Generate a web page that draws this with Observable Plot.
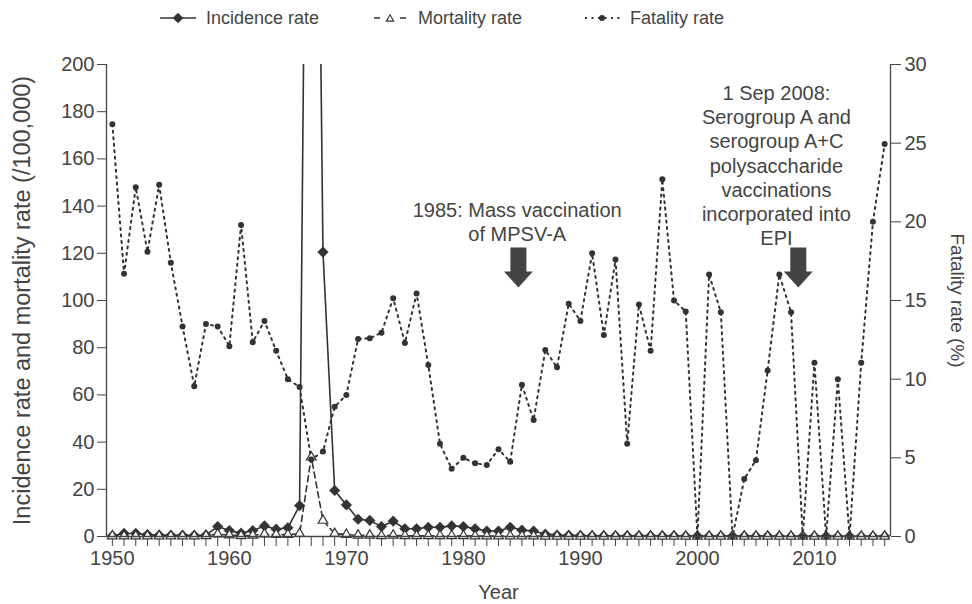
<!DOCTYPE html>
<html><head><meta charset="utf-8">
<script src="https://cdn.jsdelivr.net/npm/d3@7"></script>
<script src="https://cdn.jsdelivr.net/npm/@observablehq/plot@0.6"></script>
<style>
body{margin:0;background:#fff;font-family:"Liberation Sans",Arial,sans-serif;}
#legend{position:relative;width:972px;height:36px;color:#444;font-size:18px;}
.item{position:absolute;top:0;height:36px;display:flex;align-items:center;white-space:nowrap;}
.item svg{margin-right:10px;}
</style></head><body>
<div id="legend"></div>
<div id="chart"></div>
<script>
const years = d3.range(1950, 2017);
const incidence = [
  0.3,1.3,1.3,0.8,0.6,0.5,0.5,0.5,0.6,4.2,
  2.5,1.4,2.5,4.5,3.1,3.7,13.1,570,120.5,19.5,
  13.4,7.3,6.8,4.2,6.5,3.3,3.3,3.9,3.9,4.5,
  4.2,3.3,2.3,2.3,3.9,2.7,2.3,1.0,0.6,0.5,
  0.4,0.3,0.3,0.3,0.3,0.3,0.3,0.3,0.3,0.2,
  0.2,0.2,0.2,0.2,0.2,0.2,0.2,0.1,0.1,0.1,
  0.1,0.1,0.1,0.1,0.1,0.1,0.1
];
const mortality = [
  0.2,0.2,0.2,0.2,0.2,0.2,0.2,0.2,0.3,1.0,
  0.6,0.3,0.5,1.0,0.8,0.8,1.2,33.6,6.8,1.2,
  0.8,0.5,0.5,0.3,0.5,0.3,0.3,0.3,0.3,0.3,
  0.3,0.2,0.2,0.2,0.2,0.2,0.2,0.1,0.1,0.1,
  0.1,0.1,0.1,0.1,0.1,0.1,0.1,0.1,0.1,0.05,
  0.05,0.05,0.05,0.05,0.05,0.05,0.05,0.05,0.05,0.05,
  0.05,0.05,0.05,0.05,0.05,0.05,0.05
];
const fatality = [
  26.2,16.7,22.2,18.1,22.35,17.4,13.35,9.55,13.5,13.35,
  12.1,19.8,12.35,13.7,11.8,10.0,9.5,4.9,5.4,8.25,
  9.0,12.55,12.6,12.95,15.15,12.3,15.45,10.9,5.9,4.3,
  5.0,4.65,4.55,5.55,4.75,9.65,7.4,11.85,10.75,14.8,
  13.7,18.0,12.8,17.6,5.9,14.75,11.8,22.7,15.0,14.3,
  0,16.65,14.25,0,3.65,4.85,10.55,16.65,14.25,0,
  11.05,0,10.0,0,11.05,20.0,24.95
];
const leftTicks = [0,20,40,60,80,100,120,140,160,180,200];
const rightTicks = [0,5,10,15,20,25,30];
const seriesNames = ["Incidence rate","Mortality rate","Fatality rate"];
const leftTitle = "Incidence rate and mortality rate (/100,000)";
const rightTitle = "Fatality rate (%)";
const xTitle = "Year";
const annotations = [
  {x: 1984.6, y: 133.7, text: "1985: Mass vaccination\nof MPSV-A"},
  {x: 2006.75, y: 157.5, text: "1 Sep 2008:\nSerogroup A and\nserogroup A+C\npolysaccharide\nvaccinations\nincorporated into\nEPI"}
];
const arrows = [{x: 1984.7, y: 114}, {x: 2008.62, y: 114}];

const k = 200 / 30;
const rows = years.map((yr, i) => ({year: yr, inc: incidence[i], mort: mortality[i], fat: fatality[i] * k}));
const ink = "#333";
const txt = "#444";

const blockArrow = {
  draw(ctx) {
    ctx.moveTo(-8, -20); ctx.lineTo(8, -20); ctx.lineTo(8, 4);
    ctx.lineTo(14.5, 4); ctx.lineTo(0, 20); ctx.lineTo(-14.5, 4);
    ctx.lineTo(-8, 4); ctx.closePath();
  }
};

const chart = Plot.plot({
  width: 972, height: 568,
  marginTop: 28, marginBottom: 68, marginLeft: 106, marginRight: 82,
  style: {fontFamily: '"Liberation Sans", Arial, sans-serif', color: txt, background: "#fff"},
  x: {domain: [1949.5, 2016.5]},
  y: {domain: [0, 200]},
  marks: [
    Plot.ruleX([1949.5, 2016.5], {stroke: txt, strokeWidth: 1.3}),
    Plot.axisY(leftTicks, {anchor: "left", tickSize: 9, tickPadding: 3, fontSize: 20, stroke: txt}),
    Plot.axisY(rightTicks.map(d => d * k), {anchor: "right", tickSize: 10, tickPadding: 4, fontSize: 20, stroke: txt, tickFormat: d => String(Math.round(d / k))}),
    Plot.axisX(years, {anchor: "bottom", tickSize: 10, tickPadding: 4, fontSize: 20, stroke: txt, tickFormat: d => d % 10 === 0 ? String(d) : ""}),
    Plot.text([leftTitle], {frameAnchor: "left", dx: -84, rotate: -90, textAnchor: "middle", lineAnchor: "middle", fontSize: 23.5, fill: txt}),
    Plot.text([rightTitle], {frameAnchor: "right", dx: 67, rotate: 90, textAnchor: "middle", lineAnchor: "middle", fontSize: 19, fill: txt}),
    Plot.text([xTitle], {frameAnchor: "bottom", dy: 56, textAnchor: "middle", lineAnchor: "middle", fontSize: 20, fill: txt}),
    Plot.line(rows, {x: "year", y: "inc", stroke: ink, strokeWidth: 1.6, clip: true}),
    Plot.dot(rows, {x: "year", y: "inc", symbol: "diamond2", r: 4.8, fill: ink, stroke: ink, strokeWidth: 0.5, clip: true}),
    Plot.line(rows, {x: "year", y: "mort", stroke: ink, strokeWidth: 1.6, strokeDasharray: "6,4"}),
    Plot.dot(rows, {x: "year", y: "mort", symbol: "triangle2", r: 4.6, fill: "white", stroke: ink, strokeWidth: 1.2}),
    Plot.line(rows, {x: "year", y: "fat", stroke: ink, strokeWidth: 2, strokeDasharray: "2,4.5"}),
    Plot.dot(rows, {x: "year", y: "fat", r: 3, fill: ink}),
    Plot.ruleY([0], {stroke: txt, strokeWidth: 1.3}),
    Plot.text(annotations, {x: "x", y: "y", text: "text", fontSize: 20, lineHeight: 1.21, textAnchor: "middle", lineAnchor: "middle", fill: txt}),
    Plot.dot(arrows, {x: "x", y: "y", symbol: blockArrow, r: 10, fill: "#444", stroke: "none"})
  ]
});
document.getElementById("chart").appendChild(chart);

// legend
const legend = d3.select("#legend");
const lefts = [160, 372, 584];
seriesNames.forEach((name, i) => {
  const item = legend.append("div").attr("class", "item").style("left", lefts[i] + "px");
  const s = item.append("svg").attr("width", 36).attr("height", 18);
  if (i === 0) {
    s.append("line").attr("x1", 0).attr("x2", 36).attr("y1", 9).attr("y2", 9).attr("stroke", ink).attr("stroke-width", 1.6);
    s.append("path").attr("d", d3.symbol(d3.symbolDiamond2, Math.PI * 4.8 * 4.8)()).attr("transform", "translate(18,9)").attr("fill", ink);
  } else if (i === 1) {
    s.append("line").attr("x1", 2).attr("x2", 34).attr("y1", 9).attr("y2", 9).attr("stroke", ink).attr("stroke-width", 1.6).attr("stroke-dasharray", "6,20");
    s.append("path").attr("d", d3.symbol(d3.symbolTriangle2, Math.PI * 3.5 * 3.5)()).attr("transform", "translate(18,10)").attr("fill", "white").attr("stroke", ink).attr("stroke-width", 1.1);
  } else {
    s.append("line").attr("x1", 1).attr("x2", 36).attr("y1", 9).attr("y2", 9).attr("stroke", ink).attr("stroke-width", 2).attr("stroke-dasharray", "2,4.5");
    s.append("circle").attr("cx", 18).attr("cy", 9).attr("r", 3).attr("fill", ink);
  }
  item.append("span").text(name);
});
</script>
</body></html>
